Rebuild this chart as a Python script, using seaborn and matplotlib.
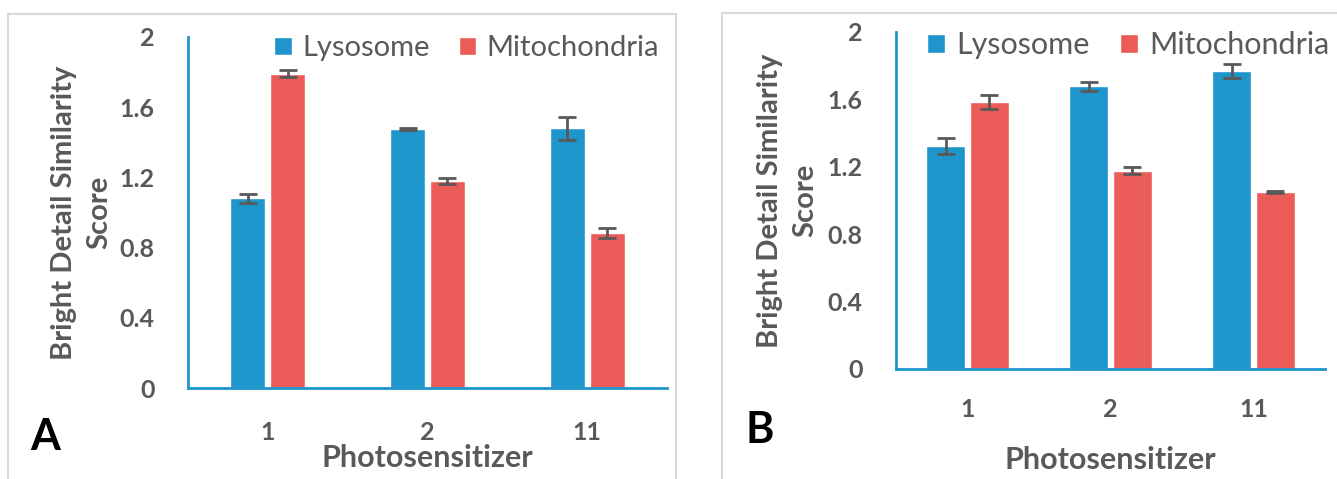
import numpy as np
import pandas as pd
import matplotlib.pyplot as plt
import seaborn as sns
from matplotlib.patches import Rectangle

# data
sensitizers = ["1", "2", "11"]
organelles = ["Lysosome", "Mitochondria"]

a_lyso = [1.08, 1.475, 1.48]
a_lyso_err = [0.028, 0.005, 0.067]
a_mito = [1.79, 1.18, 0.883]
a_mito_err = [0.02, 0.017, 0.028]

b_lyso = [1.323, 1.678, 1.769]
b_lyso_err = [0.048, 0.027, 0.042]
b_mito = [1.583, 1.177, 1.049]
b_mito_err = [0.042, 0.019, 0.005]

blue = "#1e96cc"
red = "#eb5c58"
grey = "#595959"

sns.set_style("white")
plt.rcParams['font.family'] = ['Lato', 'DejaVu Sans']


def make_df(lyso, mito, lyso_err, mito_err):
    return pd.DataFrame({
        "Photosensitizer": sensitizers * 2,
        "Organelle": [organelles[0]] * 3 + [organelles[1]] * 3,
        "Score": lyso + mito,
        "err": lyso_err + mito_err,
    })


fig = plt.figure(figsize=(13.37, 4.79), dpi=100)

# light grey frames round each panel
fig.patches.append(Rectangle((8 / 1337, -0.05), 668 / 1337, (479 - 14) / 479 + 0.05,
                             transform=fig.transFigure, fill=False, ec="#d9d9d9", lw=1.5))
fig.patches.append(Rectangle((722 / 1337, -0.05), 0.6, (479 - 13) / 479 + 0.05,
                             transform=fig.transFigure, fill=False, ec="#d9d9d9", lw=1.5))

panels = [
    dict(df=make_df(a_lyso, a_mito, a_lyso_err, a_mito_err),
         rect=[188 / 1337, 91 / 479, 479 / 1337, 351 / 479],
         width=0.5, gap=0.12, letter="A", letter_xy=(45 / 1337, 1 - 437 / 479),
         ylab_x=-0.158, xtick_pad=24, xlab_pad=0, leg=(0.983, 0.968), fs_leg=21),
    dict(df=make_df(b_lyso, b_mito, b_lyso_err, b_mito_err),
         rect=[896 / 1337, 110 / 479, 429 / 1337, 337 / 479],
         width=0.61, gap=0.105, letter="B", letter_xy=(760 / 1337, 1 - 430 / 479),
         ylab_x=-0.18, xtick_pad=21, xlab_pad=18, leg=(1.01, 0.96), fs_leg=22),
]

for p in panels:
    ax = fig.add_axes(p["rect"])
    df = p["df"]
    sns.barplot(data=df, x="Photosensitizer", y="Score", hue="Organelle",
                palette=[blue, red], width=p["width"], gap=p["gap"],
                errorbar=None, saturation=1, ax=ax)

    # error bars at the centres of the drawn bars
    bars = ax.patches[:6]
    xs = [b.get_x() + b.get_width() / 2 for b in bars]
    ys = [b.get_height() for b in bars]
    ax.errorbar(xs, ys, yerr=df["err"].values, fmt="none", ecolor=grey,
                elinewidth=2, capsize=6.5, capthick=2, zorder=5)

    ax.set_xlim(-0.5, 2.5)
    ax.set_ylim(0, 2)
    ax.set_yticks(np.arange(0, 2.01, 0.4))
    ax.set_yticklabels(["0", "0.4", "0.8", "1.2", "1.6", "2"])
    ax.tick_params(axis="both", length=0, labelsize=18, labelcolor=grey)
    ax.tick_params(axis="x", pad=p["xtick_pad"])
    ax.tick_params(axis="y", pad=24)
    for t in ax.get_xticklabels() + ax.get_yticklabels():
        t.set_fontweight("bold")

    sns.despine(ax=ax, top=True, right=True)
    for side in ["left", "bottom"]:
        ax.spines[side].set_color(blue)
        ax.spines[side].set_linewidth(2)

    ax.set_xlabel("Photosensitizer", fontsize=22, fontweight="bold",
                  color=grey, labelpad=p["xlab_pad"])
    ax.set_ylabel("Bright Detail Similarity\nScore", fontsize=21,
                  fontweight="bold", color=grey, linespacing=1.45)
    ax.yaxis.set_label_coords(p["ylab_x"], 0.5)

    sns.move_legend(ax, "center right", bbox_to_anchor=p["leg"],
                    ncol=2, frameon=False, title=None, fontsize=p["fs_leg"],
                    handlelength=0.6, handleheight=0.6, handletextpad=0.35,
                    columnspacing=1.0, borderaxespad=0, borderpad=0)
    for t in ax.get_legend().get_texts():
        t.set_color(grey)

    fig.text(p["letter_xy"][0], p["letter_xy"][1], p["letter"], fontsize=31,
             fontweight="bold", color="black", va="center", ha="center")

fig.savefig("out.png", dpi=100)
